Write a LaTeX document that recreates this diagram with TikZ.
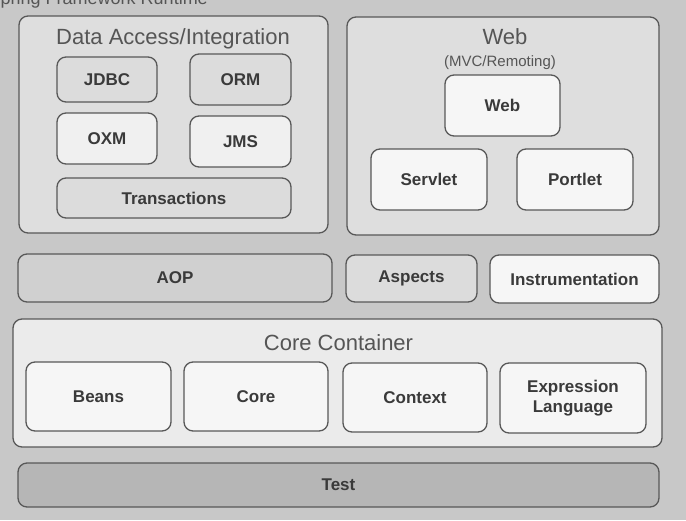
\documentclass[tikz,border=0pt]{standalone}
\usepackage{fontspec}
\setmainfont{Liberation Sans}
\definecolor{pagebg}{RGB}{200,200,200}
\definecolor{framefill}{RGB}{222,222,222}
\definecolor{boxgray}{RGB}{220,220,220}
\definecolor{boxlight}{RGB}{240,240,240}
\definecolor{boxwhite}{RGB}{246,246,246}
\definecolor{aopfill}{RGB}{208,208,208}
\definecolor{testfill}{RGB}{182,182,182}
\definecolor{edge}{RGB}{88,88,88}
\definecolor{ink}{RGB}{58,58,58}
\definecolor{titleink}{RGB}{85,85,85}
\tikzset{
  module/.style={draw=edge, line width=1.3pt, rounded corners=9pt, inner sep=0pt, outer sep=0pt,
    text=ink, font=\fontsize{17}{20.5}\selectfont\bfseries, align=center},
  frame/.style={draw=edge, line width=1.3pt, rounded corners=9pt, inner sep=0pt, outer sep=0pt, fill=framefill},
  heading/.style={anchor=base, text=titleink, font=\fontsize{22}{26}\selectfont, inner sep=0pt},
  subheading/.style={anchor=base, text=titleink, font=\fontsize{15}{18}\selectfont, inner sep=0pt}
}
\begin{document}
\begin{tikzpicture}[x=1pt, y=-1pt]
  \useasboundingbox (0,0) rectangle (686,520);
  \clip (0,0) rectangle (686,520);
  \fill[pagebg] (0,0) rectangle (686,520);

  % page title, running off the top edge
  \node[anchor=base east, text=titleink, font=\fontsize{18}{22}\selectfont, inner sep=0pt]
    (runtime) at (208,4.5) {Spring Framework Runtime};

  % data access / integration
  \node[frame, minimum width=309pt, minimum height=217pt] (dai) at (173.5,124.5) {};
  \node[heading] (daititle) at (173,44) {Data Access/Integration};
  \node[module, fill=boxgray,  minimum width=100pt, minimum height=45pt] (jdbc) at (107,79.5) {JDBC};
  \node[module, fill=boxgray,  minimum width=101pt, minimum height=51pt] (orm) at (240.5,79.5) {ORM};
  \node[module, fill=boxlight, minimum width=100pt, minimum height=51pt] (oxm) at (107,138.5) {OXM};
  \node[module, fill=boxlight, minimum width=101pt, minimum height=51pt] (jms) at (240.5,141.5) {JMS};
  \node[module, fill=boxgray,  minimum width=234pt, minimum height=40pt] (tx) at (174,198) {Transactions};

  % web
  \node[frame, minimum width=312pt, minimum height=218pt] (web) at (503,126) {};
  \node[heading] (webtitle) at (505,44) {Web};
  \node[subheading] (mvc) at (500,66) {(MVC/Remoting)};
  \node[module, fill=boxwhite, minimum width=115pt, minimum height=61pt] (webmod) at (502.5,105.5) {Web};
  \node[module, fill=boxwhite, minimum width=116pt, minimum height=61pt] (servlet) at (429,179.5) {Servlet};
  \node[module, fill=boxwhite, minimum width=116pt, minimum height=61pt] (portlet) at (575,179.5) {Portlet};

  % aop row
  \node[module, fill=aopfill,  minimum width=314pt, minimum height=48pt] (aop) at (175,278) {AOP};
  \node[module, fill=boxgray,  minimum width=131pt, minimum height=47pt] (aspects) at (411.5,278.5) {Aspects};
  \node[module, fill=boxwhite, minimum width=169pt, minimum height=48pt] (instr) at (574.5,279) {Instrumentation};

  % core container
  \node[frame, fill=framefill!60!white, minimum width=649pt, minimum height=128pt] (cc) at (337.5,383) {};
  \node[heading] (cctitle) at (338.5,350) {Core Container};
  \node[module, fill=boxwhite, minimum width=145pt, minimum height=69pt] (beans) at (98.5,396.5) {Beans};
  \node[module, fill=boxwhite, minimum width=144pt, minimum height=69pt] (core) at (256,396.5) {Core};
  \node[module, fill=boxwhite, minimum width=144pt, minimum height=69pt] (context) at (415,397.5) {Context};
  \node[module, fill=boxwhite, minimum width=146pt, minimum height=70pt] (el) at (573,398) {Expression\\Language};

  % test
  \node[module, fill=testfill, minimum width=641pt, minimum height=44pt] (test) at (338.5,485) {Test};
\end{tikzpicture}
\end{document}
